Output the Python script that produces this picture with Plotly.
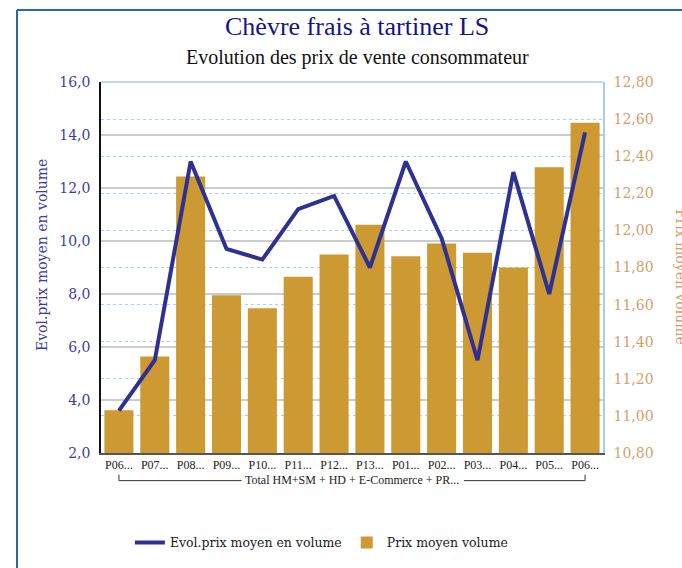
import plotly.graph_objects as go

# Periods (truncated labels) and the group they belong to
periods = ["P06...", "P07...", "P08...", "P09...", "P10...", "P11...", "P12...",
           "P13...", "P01...", "P02...", "P03...", "P04...", "P05...", "P06..."]
group_label = "Total HM+SM + HD + E-Commerce + PR..."

# Prix moyen volume (right axis, bars)
prix_moyen = [11.03, 11.32, 12.29, 11.65, 11.58, 11.75, 11.87,
              12.03, 11.86, 11.93, 11.88, 11.80, 12.34, 12.58]

# Evol. prix moyen en volume (left axis, line)
evol_prix = [3.6, 5.5, 13.0, 9.7, 9.3, 11.2, 11.7,
             9.0, 13.0, 10.1, 5.5, 12.6, 8.0, 14.1]

left_ticks = [2, 4, 6, 8, 10, 12, 14, 16]
right_ticks = [10.8, 11.0, 11.2, 11.4, 11.6, 11.8, 12.0, 12.2, 12.4, 12.6, 12.8]

xs = list(range(len(periods)))

BAR = "#CC9933"
LINE = "#2E3192"
LEFT_TXT = "#3D3D9E"
RIGHT_TXT = "#D4A06A"
FRAME = "#2A64B5"
SERIF = "DejaVu Serif"
TIMES = "Liberation Serif"

fig = go.Figure()

fig.add_trace(go.Scatter(
    x=xs, y=evol_prix, name="Evol.prix moyen en volume",
    mode="lines", line=dict(color=LINE, width=4), yaxis="y2",
))
fig.add_trace(go.Bar(
    x=xs, y=prix_moyen, name="Prix moyen volume",
    marker=dict(color=BAR, line=dict(width=0)), yaxis="y",
))

fig.update_layout(
    width=682, height=568,
    margin=dict(l=101, r=79, t=82, b=114),
    paper_bgcolor="white", plot_bgcolor="white",
    bargap=0.19,
    showlegend=True,
    legend=dict(orientation="h", x=0.44, xanchor="center", y=-0.2386,
                yanchor="middle", itemwidth=30,
                font=dict(family=SERIF, size=12.5, color="#222"),
                bgcolor="rgba(0,0,0,0)"),
    xaxis=dict(
        range=[-0.5, len(periods) - 0.5],
        tickmode="array", tickvals=xs, ticktext=periods,
        tickfont=dict(family=TIMES, size=12, color="#222"),
        showgrid=False, zeroline=False,
        showline=True, linecolor="#555", linewidth=1.5,
        ticks="",
    ),
    yaxis=dict(
        side="right", range=[10.8, 12.8],
        tickmode="array", tickvals=right_ticks,
        ticktext=[f"{v:.2f}".replace(".", ",") for v in right_ticks],
        tickfont=dict(family=SERIF, size=14, color=RIGHT_TXT),
        showgrid=True, gridcolor="#A9D1F5", gridwidth=1, griddash="dot",
        zeroline=False, showline=True, linecolor="#A8CBEE", linewidth=1.5,
        ticks="", ticklabelstandoff=6,
    ),
    yaxis2=dict(
        side="left", overlaying="y", range=[2, 16],
        tickmode="array", tickvals=left_ticks,
        ticktext=[f"{v:.1f}".replace(".", ",") for v in left_ticks],
        tickfont=dict(family=SERIF, size=14, color=LEFT_TXT),
        showgrid=True, gridcolor="#CCCCCC", gridwidth=1.5,
        zeroline=False, showline=True, linecolor="#111", linewidth=1.5,
        ticks="", ticklabelstandoff=6,
    ),
)

annotations = [
    dict(text="Chèvre frais à tartiner LS", x=0.51, y=1.150, xref="paper", yref="paper",
         showarrow=False, xanchor="center", yanchor="middle",
         font=dict(family=TIMES, size=26, color="#14148A")),
    dict(text="Evolution des prix de vente consommateur", x=0.51, y=1.067,
         xref="paper", yref="paper", showarrow=False, xanchor="center", yanchor="middle",
         font=dict(family=TIMES, size=20, color="#111")),
    dict(text="Evol.prix moyen en volume", x=-0.1175, y=0.5335, xref="paper", yref="paper",
         showarrow=False, textangle=-90, xanchor="center", yanchor="middle",
         font=dict(family=SERIF, size=14, color=LEFT_TXT)),
    dict(text="Prix moyen volume", x=1.155, y=0.4745, xref="paper", yref="paper",
         showarrow=False, textangle=90, xanchor="center", yanchor="middle",
         font=dict(family=SERIF, size=14, color=RIGHT_TXT)),
    dict(text=group_label, x=(len(periods) - 1) / 2, y=-0.073, xref="x", yref="paper",
         showarrow=False, xanchor="center", yanchor="middle",
         font=dict(family=TIMES, size=12, color="#222")),
]
fig.update_layout(annotations=annotations)

# Group bracket under the period labels, frame around the chart, top edge of the plot
last = len(periods) - 1
bracket_y = -0.0745
tick_top = -0.058
shapes = [
    dict(type="line", xref="x", yref="paper", x0=0, x1=3.42, y0=bracket_y, y1=bracket_y,
         line=dict(color="#333", width=1)),
    dict(type="line", xref="x", yref="paper", x0=9.62, x1=last, y0=bracket_y, y1=bracket_y,
         line=dict(color="#333", width=1)),
    dict(type="line", xref="x", yref="paper", x0=0, x1=0, y0=tick_top, y1=bracket_y,
         line=dict(color="#333", width=1)),
    dict(type="line", xref="x", yref="paper", x0=last, x1=last, y0=tick_top, y1=bracket_y,
         line=dict(color="#333", width=1)),
    dict(type="line", xref="paper", yref="paper", x0=0, x1=1, y0=1, y1=1,
         line=dict(color="#A8CBEE", width=1.5)),
    dict(type="line", xref="paper", yref="paper", x0=-0.1673, x1=-0.1673, y0=1.1944, y1=-0.31,
         line=dict(color=FRAME, width=2)),
    dict(type="line", xref="paper", yref="paper", x0=-0.1673, x1=1.16, y0=1.1944, y1=1.1944,
         line=dict(color=FRAME, width=2)),
]
fig.update_layout(shapes=shapes)

fig.write_html("out.html")
